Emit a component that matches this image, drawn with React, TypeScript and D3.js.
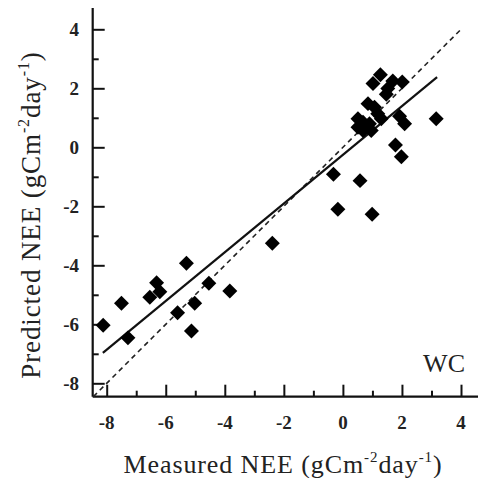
import { useEffect, useRef } from 'react';
import * as d3 from 'd3';

// measured vs predicted NEE (gC m-2 day-1)
const measured = [
  -8.12, -7.5, -7.28, -6.54, -6.31, -6.2, -5.6, -5.3, -5.02, -5.13, -4.54, -3.83,
  -2.39, -0.32, -0.17, 0.58, 0.99,
  1.27, 1.02, 1.69, 2.01, 1.52, 1.47, 0.85, 1.07, 1.18, 0.51, 0.68, 0.51, 0.9, 0.68,
  0.96, 1.3, 1.92, 2.09, 3.16, 1.78, 1.98,
];
const predicted = [
  -6.03, -5.29, -6.46, -5.08, -4.59, -4.9, -5.61, -3.93, -5.29, -6.23, -4.61, -4.87,
  -3.25, -0.91, -2.1, -1.13, -2.27,
  2.46, 2.16, 2.25, 2.21, 1.99, 1.8, 1.48, 1.36, 1.14, 0.97, 0.85, 0.68, 0.8, 0.57,
  0.57, 0.97, 1.05, 0.8, 0.97, 0.08, -0.32,
];
const fitX = [-8.13, 3.19];
const fitY = [-6.97, 2.38];
const oneToOne = [-8.45, 4.05];
const majorTicks = [-8, -6, -4, -2, 0, 2, 4];
const minorTicks = [-7, -5, -3, -1, 1, 3];
const siteLabel = 'WC';

const App = () => {
  const svgRef = useRef<SVGSVGElement>(null);

  useEffect(() => {
    const svg = d3.select(svgRef.current);
    svg.selectAll('*').remove();

    const x = d3.scaleLinear().domain([-8, 4]).range([106.7, 461]);
    const y = d3.scaleLinear().domain([-8, 4]).range([383.3, 29.3]);
    const axisX = 92.7;
    const axisY = 396.7;
    const serif = '"Liberation Serif", "Times New Roman", serif';

    // ticks, pointing inward
    const bottom = svg.append('g').attr('transform', `translate(0,${axisY})`);
    bottom.call(d3.axisBottom(x).tickValues(majorTicks).tickSize(-12).tickFormat(() => ''));
    bottom.append('g').call(d3.axisBottom(x).tickValues(minorTicks).tickSize(-6).tickFormat(() => ''));
    const left = svg.append('g').attr('transform', `translate(${axisX},0)`);
    left.call(d3.axisLeft(y).tickValues(majorTicks).tickSize(-12).tickFormat(() => ''));
    left.append('g').call(d3.axisLeft(y).tickValues(minorTicks).tickSize(-6).tickFormat(() => ''));
    svg.selectAll('.domain').remove();
    svg.selectAll('.tick line').attr('stroke', '#111').attr('stroke-width', 2);

    svg.append('line').attr('x1', axisX).attr('x2', 478).attr('y1', axisY).attr('y2', axisY)
      .attr('stroke', '#111').attr('stroke-width', 2.2);
    svg.append('line').attr('x1', axisX).attr('x2', axisX).attr('y1', 8).attr('y2', axisY)
      .attr('stroke', '#111').attr('stroke-width', 2.2);

    // tick labels
    svg.append('g').selectAll('text').data(majorTicks).join('text')
      .attr('x', d => x(d)).attr('y', 428.5)
      .attr('text-anchor', 'middle')
      .attr('font-family', serif).attr('font-size', 19).attr('font-weight', 'bold')
      .attr('fill', '#222')
      .text(d => d);
    svg.append('g').selectAll('text').data(majorTicks).join('text')
      .attr('x', 79).attr('y', d => y(d)).attr('dy', '0.34em')
      .attr('text-anchor', 'end')
      .attr('font-family', serif).attr('font-size', 19).attr('font-weight', 'bold')
      .attr('fill', '#222')
      .text(d => d);

    // 1:1 line and regression line
    const line = d3.line<[number, number]>().x(d => x(d[0])).y(d => y(d[1]));
    svg.append('path')
      .attr('d', line([[oneToOne[0], oneToOne[0]], [oneToOne[1], oneToOne[1]]]))
      .attr('fill', 'none').attr('stroke', '#222').attr('stroke-width', 1.6)
      .attr('stroke-dasharray', '5,4');
    svg.append('path')
      .attr('d', line([[fitX[0], fitY[0]], [fitX[1], fitY[1]]]))
      .attr('fill', 'none').attr('stroke', '#111').attr('stroke-width', 2.2);

    // diamonds
    const diamond = d3.symbol(d3.symbolSquare, 112);
    svg.append('g').selectAll('path').data(measured).join('path')
      .attr('d', diamond)
      .attr('transform', (d, i) => `translate(${x(d)},${y(predicted[i])}) rotate(45)`)
      .attr('fill', '#000');

    svg.append('text')
      .attr('x', 465).attr('y', 372).attr('text-anchor', 'end')
      .attr('font-family', serif).attr('font-size', 26).attr('fill', '#222')
      .text(siteLabel);

    // axis titles
    const xt = svg.append('text')
      .attr('x', 283).attr('y', 473).attr('text-anchor', 'middle')
      .attr('font-family', serif).attr('font-size', 26).attr('letter-spacing', 0.9)
      .attr('fill', '#222');
    xt.append('tspan').text('Measured NEE (gCm');
    xt.append('tspan').attr('font-size', 15).attr('dy', -11).text('-2');
    xt.append('tspan').attr('dy', 11).text('day');
    xt.append('tspan').attr('font-size', 15).attr('dy', -11).text('-1');
    xt.append('tspan').attr('dy', 11).text(')');

    const yt = svg.append('text')
      .attr('transform', 'translate(40,215) rotate(-90)').attr('text-anchor', 'middle')
      .attr('font-family', serif).attr('font-size', 27).attr('letter-spacing', 0.9)
      .attr('fill', '#222');
    yt.append('tspan').text('Predicted NEE (gCm');
    yt.append('tspan').attr('font-size', 16).attr('dy', -11).text('-2');
    yt.append('tspan').attr('dy', 11).text('day');
    yt.append('tspan').attr('font-size', 16).attr('dy', -11).text('-1');
    yt.append('tspan').attr('dy', 11).text(')');
  }, []);

  return (
    <svg ref={svgRef} width={478} height={478}
      style={{ position: 'absolute', left: 0, top: 0, background: '#fff' }} />
  );
};

export default App;
